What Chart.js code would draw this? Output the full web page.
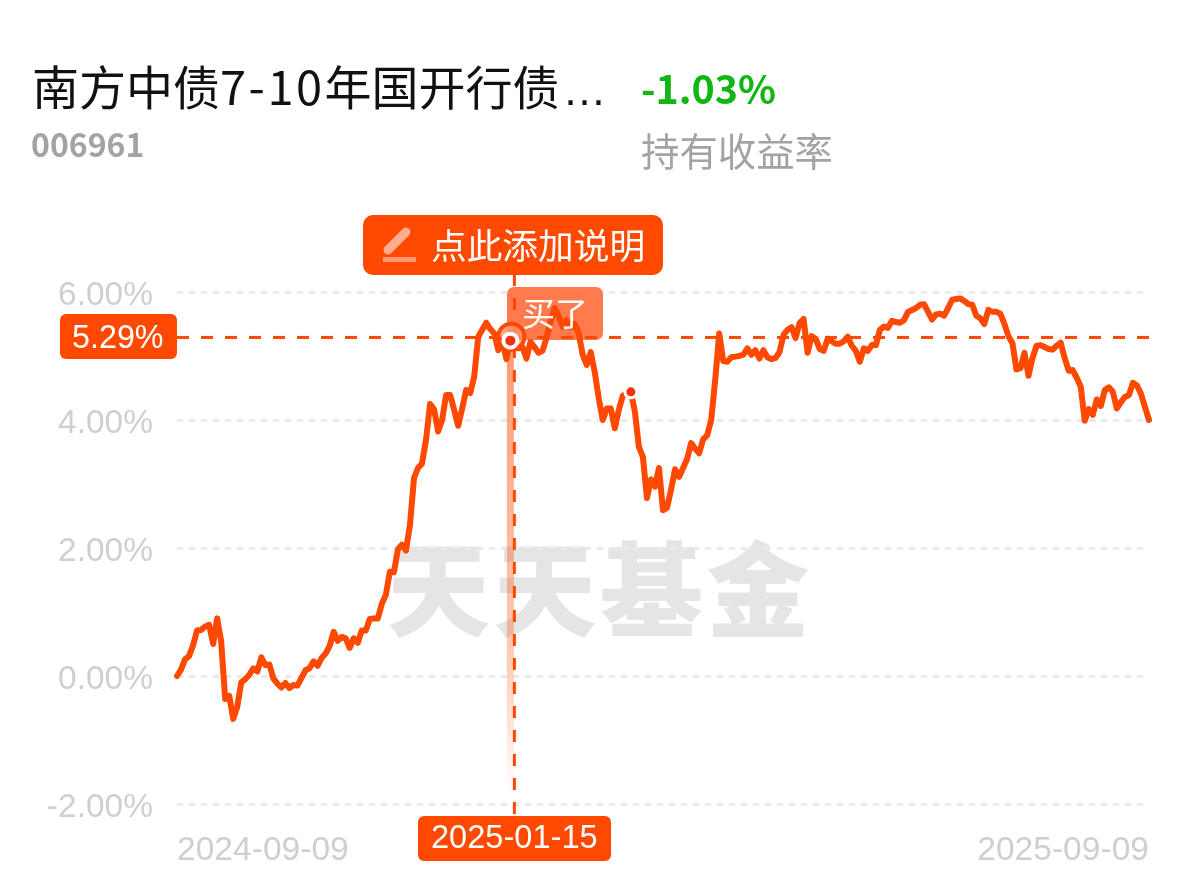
<!DOCTYPE html>
<html lang="zh">
<head>
<meta charset="utf-8">
<title>南方中债7-10年国开行债</title>
<script src="https://cdn.jsdelivr.net/npm/chart.js@4"></script>
<style>
html,body{margin:0;padding:0;background:#fff;width:1194px;height:881px;overflow:hidden}
#chart{position:absolute;left:0;top:0;z-index:2}
.t{position:absolute;white-space:nowrap;line-height:1;font-family:"Noto Sans CJK SC","Noto Sans",sans-serif;z-index:3}
.a{font-family:"Liberation Sans",Arial,sans-serif;color:#fff}
#wm{z-index:1;color:#e5e5e5;font-weight:900;font-size:103px;left:387px;top:533px;letter-spacing:3.5px}
</style>
</head>
<body>
<div class="t" id="wm">天天基金</div>
<canvas id="chart" width="1194" height="881"></canvas>
<div class="t" style="left:32px;top:61px;font-size:47px;color:#111">南方中债<span style="letter-spacing:2.5px">7-10</span>年国开行债<span style="font-family:'Liberation Sans';font-size:44px;margin-left:3px">…</span></div>
<div class="t" style="left:641px;top:67px;font-size:39.4px;font-weight:700;color:#12b612">-1.03%</div>
<div class="t" style="left:31px;top:127px;font-size:32px;font-weight:700;color:#a3a3a3">006961</div>
<div class="t" style="left:641px;top:130px;font-size:38.4px;color:#a3a3a3">持有收益率</div>
<div class="t" style="left:431px;top:226px;font-size:35.7px;color:#fff">点此添加说明</div>
<div class="t" style="left:522px;top:296px;font-size:33px;color:#fff">买了</div>
<div class="t a" style="left:72px;top:321px;font-size:32.3px">5.29%</div>
<div class="t a" style="left:431px;top:821px;font-size:32.6px">2025-01-15</div>
<script>
const xTickLabels = ['2024-09-09', '2025-09-09'];
const yTicks = [-2, 0, 2, 4, 6];
const holdLevel = 5.29;
const buyIndex = 83;
const cursorIndex = 84;
const endMarkIndex = 113;
const navReturn = [
0.00,0.10,0.26,0.31,0.48,0.71,0.72,0.77,0.80,0.50,
0.90,0.54,-0.36,-0.31,-0.67,-0.48,-0.10,-0.05,0.02,0.12,
0.07,0.29,0.17,0.18,-0.04,-0.12,-0.18,-0.11,-0.19,-0.14,
-0.15,-0.03,0.09,0.12,0.23,0.16,0.28,0.35,0.47,0.69,
0.55,0.61,0.59,0.44,0.59,0.52,0.71,0.71,0.89,0.90,
0.90,1.13,1.27,1.63,1.62,1.98,2.05,1.96,2.36,3.09,
3.25,3.32,3.69,4.25,4.17,3.82,4.00,4.39,4.39,4.16,
3.91,4.18,4.47,4.42,4.68,5.30,5.41,5.52,5.42,5.35,
5.09,5.25,4.95,5.24,5.17,5.12,5.14,4.96,5.22,5.14,
5.05,5.08,5.28,5.53,5.75,5.63,5.46,5.56,5.45,5.50,
5.36,5.02,4.86,5.06,4.75,4.34,4.00,4.18,4.18,3.87,
4.16,4.38,4.42,4.44,4.13,3.58,3.42,2.78,3.07,2.96,
3.25,2.59,2.63,2.91,3.23,3.11,3.25,3.39,3.64,3.55,
3.48,3.70,3.76,4.00,4.63,5.35,4.92,4.91,4.98,4.99,
5.00,5.02,5.12,5.02,5.09,4.96,5.09,4.98,4.95,4.97,
5.06,5.33,5.41,5.45,5.28,5.51,5.58,5.05,5.31,5.27,
5.11,5.08,5.27,5.23,5.19,5.19,5.23,5.30,5.16,5.08,
4.91,5.12,5.08,5.17,5.17,5.41,5.46,5.44,5.55,5.53,
5.52,5.56,5.69,5.72,5.75,5.80,5.81,5.69,5.57,5.65,
5.66,5.63,5.75,5.88,5.89,5.90,5.86,5.81,5.80,5.63,
5.59,5.50,5.72,5.69,5.69,5.66,5.50,5.31,5.20,4.79,
4.81,5.05,4.69,4.97,5.16,5.17,5.14,5.11,5.10,5.16,
5.21,4.97,4.77,4.78,4.66,4.52,3.99,4.17,4.08,4.32,
4.22,4.47,4.51,4.44,4.18,4.28,4.36,4.39,4.58,4.54,
4.41,4.20,4.00
];
const ORANGE = '#ff4800';

function rr(ctx, x, y, w, h, r, fill) {
  ctx.beginPath(); ctx.roundRect(x, y, w, h, r); ctx.fillStyle = fill; ctx.fill();
}
const overlay = {
  id: 'overlay',
  beforeDatasetsDraw(chart) {
    const {ctx, scales: {x, y}, chartArea: a} = chart;
    const bx = x.getPixelForValue(buyIndex), cx = x.getPixelForValue(cursorIndex);
    const ly = y.getPixelForValue(holdLevel);
    ctx.save();
    const by = y.getPixelForValue(navReturn[buyIndex]);
    const g = ctx.createLinearGradient(0, by, 0, a.bottom - 8);
    g.addColorStop(0, 'rgba(255,72,0,0.55)');
    g.addColorStop(0.7, 'rgba(255,72,0,0.28)');
    g.addColorStop(1, 'rgba(255,72,0,0)');
    ctx.fillStyle = g;
    ctx.fillRect(bx - 3.5, by, 7, a.bottom - 8 - by);
    rr(ctx, 507, 287, 96, 53, 7, '#ff7a4d');
    ctx.strokeStyle = ORANGE; ctx.lineWidth = 3; ctx.setLineDash([12, 12]);
    ctx.beginPath(); ctx.moveTo(a.left, ly); ctx.lineTo(a.right, ly); ctx.stroke();
    ctx.beginPath(); ctx.moveTo(cx, 274); ctx.lineTo(cx, 816); ctx.stroke();
    ctx.setLineDash([]);
    ctx.beginPath(); ctx.arc(bx + 1, by - 4, 13, 0, Math.PI * 2);
    ctx.fillStyle = 'rgba(255,150,110,0.8)'; ctx.fill();
    ctx.lineWidth = 4; ctx.strokeStyle = ORANGE; ctx.stroke();
    rr(ctx, 363, 215, 300, 60, 10, ORANGE);
    rr(ctx, 60, 314, 117, 45, 6, ORANGE);
    rr(ctx, 418, 816, 193, 45, 6, ORANGE);
    ctx.strokeStyle = 'rgba(255,255,255,0.55)'; ctx.lineCap = 'round';
    ctx.lineWidth = 9;
    ctx.beginPath(); ctx.moveTo(388, 250); ctx.lineTo(406, 232); ctx.stroke();
    ctx.lineCap = 'butt'; ctx.fillStyle = 'rgba(255,255,255,0.45)';
    ctx.fillRect(383, 257, 33, 5);
    ctx.restore();
  }
};
new Chart(document.getElementById('chart'), {
  type: 'line',
  data: {
    datasets: [
      {
        data: navReturn.map((v, i) => ({x: i, y: v})),
        borderColor: ORANGE, borderWidth: 6, pointRadius: 0,
        tension: 0, borderJoinStyle: 'round', borderCapStyle: 'round', clip: false, order: 2
      },
      {
        data: [buyIndex, endMarkIndex].map(i => ({x: i, y: navReturn[i]})),
        showLine: false, pointRadius: [7, 6], pointBackgroundColor: '#f5300f',
        pointBorderColor: '#fff', pointBorderWidth: [4, 3], clip: false, order: 1
      }
    ]
  },
  options: {
    responsive: false, animation: false, devicePixelRatio: 1,
    layout: {autoPadding: false, padding: {left: 0, right: 45, top: 292, bottom: 0}},
    plugins: {legend: {display: false}, tooltip: {enabled: false}},
    scales: {
      x: {
        type: 'linear', min: 0, max: navReturn.length - 1,
        grid: {display: false}, border: {display: false},
        afterBuildTicks(s) { s.ticks = [{value: s.min}, {value: s.max}]; },
        afterFit(s) { s.height = 77; },
        ticks: {
          align: 'inner', autoSkip: false, maxRotation: 0, padding: 19,
          color: '#cfcfcf', font: {family: '"Liberation Sans"', size: 33.6},
          callback: v => v === 0 ? xTickLabels[0] : xTickLabels[1]
        }
      },
      y: {
        min: -2, max: 6,
        afterBuildTicks(s) { s.ticks = yTicks.map(v => ({value: v})); },
        afterFit(s) { s.width = 177; },
        grid: {color: '#e9e9e9', lineWidth: 3, drawTicks: false, tickLength: 0},
        border: {display: false, dash: [6, 6]},
        ticks: {
          padding: 24, labelOffset: 3.5, color: '#cfcfcf', font: {family: '"Liberation Sans"', size: 33.5},
          callback: v => v.toFixed(2) + '%'
        }
      }
    }
  },
  plugins: [overlay]
});
</script>
</body>
</html>
